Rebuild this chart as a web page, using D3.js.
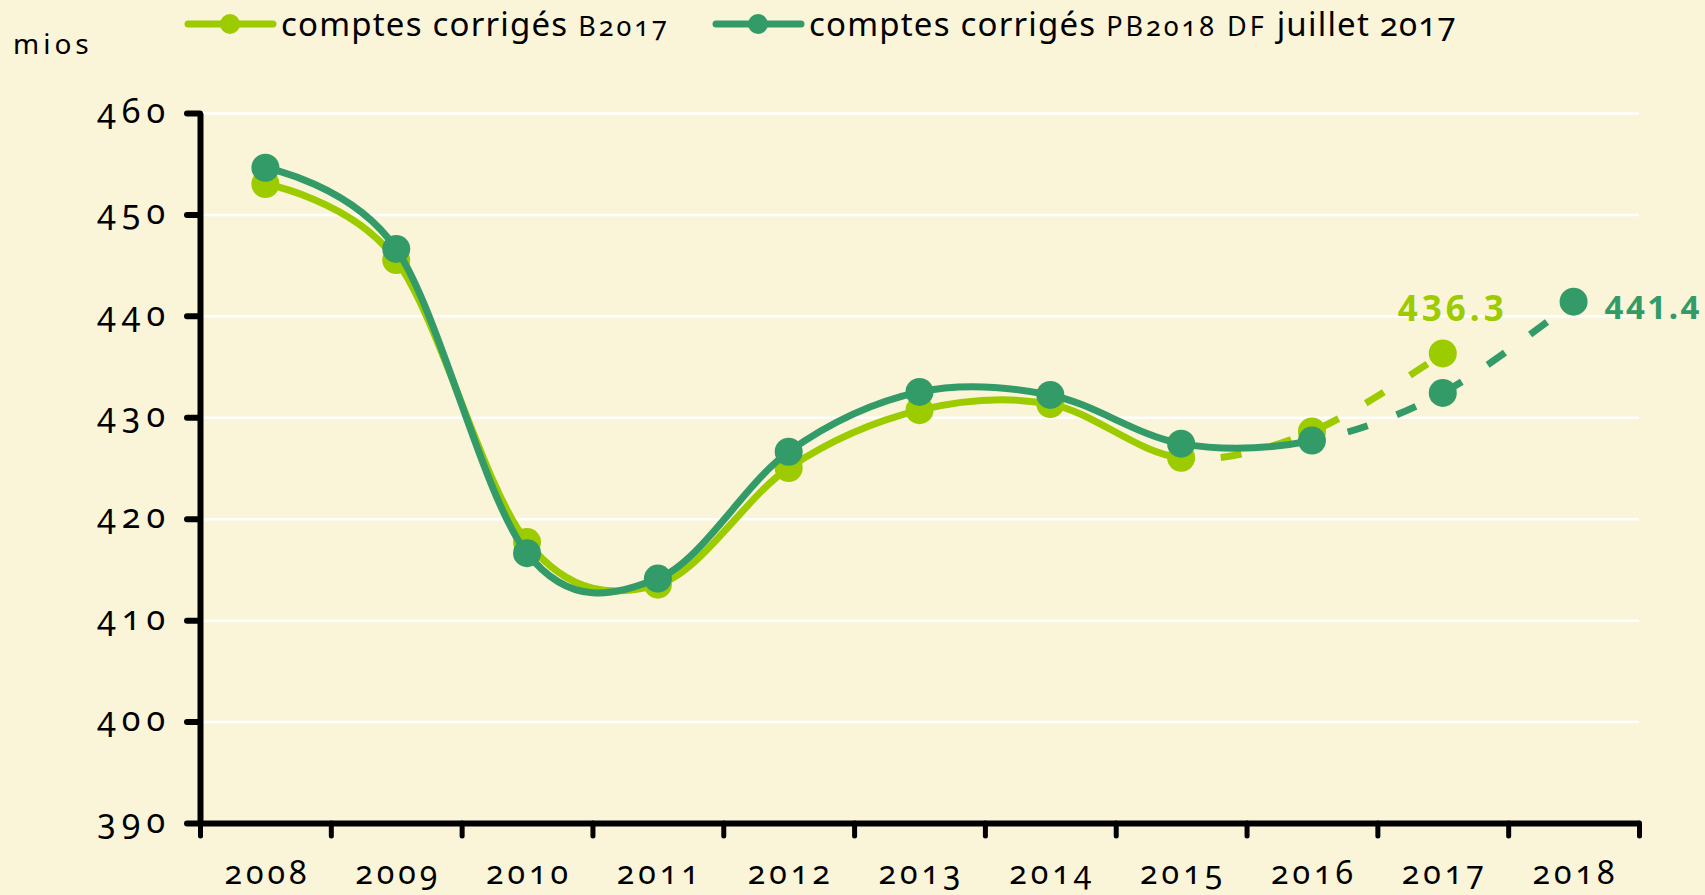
<!DOCTYPE html>
<html>
<head>
<meta charset="utf-8">
<script src="https://cdn.jsdelivr.net/npm/d3@7"></script>
<style>
  body { margin: 0; background: #faf4d8; }
  svg { display: block; font-family: "Noto Sans", sans-serif; font-variant-numeric: oldstyle-nums; }
</style>
</head>
<body>
<svg id="chart" width="1705" height="895"></svg>
<script>
// data
const years = ["2008", "2009", "2010", "2011", "2012", "2013", "2014", "2015", "2016", "2017", "2018"];
const b2017 = [453.0, 445.5, 417.7, 413.5, 425.0, 430.7, 431.3, 426.0, 428.6, 436.3];
const pb2018 = [454.6, 446.6, 416.6, 414.1, 426.6, 432.5, 432.2, 427.4, 427.7, 432.4, 441.4];
const yTicks = [390, 400, 410, 420, 430, 440, 450, 460];
const seriesNames = ["comptes corrigés ", "comptes corrigés "];
const seriesTags = ["B2017", "PB2018 DF"];
const seriesTail = ["", " juillet 2017"];

const lime = "#9ccb00";
const dark = "#339b68";

const svg = d3.select("#chart");
const mLeft = 200, mRight = 1639, mTop = 113, mBottom = 823;

const x = d3.scaleBand().domain(years).range([mLeft, mRight]);
const xEdge = d3.scaleLinear().domain([0, years.length]).range([mLeft, mRight]);
const y = d3.scaleLinear().domain([390, 460]).range([mBottom, mTop]);
const cx = (yr) => x(yr) + x.bandwidth() / 2;

// gridlines
svg.append("g")
    .attr("transform", `translate(${mLeft},0)`)
    .call(d3.axisLeft(y).tickValues(yTicks).tickSize(-(mRight - mLeft)).tickFormat(""))
    .call(g => g.select(".domain").remove())
    .call(g => g.selectAll("line").attr("stroke", "#fff").attr("stroke-width", 2.5));

// y axis
const yAx = svg.append("g")
    .attr("transform", `translate(${mLeft},0)`)
    .call(d3.axisLeft(y).tickValues(yTicks).tickSize(13).tickSizeOuter(0).tickPadding(16));
yAx.select(".domain").attr("stroke", "#000").attr("stroke-width", 6);
yAx.selectAll(".tick line").attr("stroke", "#000").attr("stroke-width", 6).attr("stroke-linecap", "round");
yAx.selectAll(".tick text")
    .attr("fill", "#000").attr("font-size", 34).attr("letter-spacing", 6)
    .attr("font-family", "Noto Sans").attr("dy", "0.27em");

// x axis: edge ticks + centred labels
const xTk = svg.append("g")
    .attr("transform", `translate(0,${mBottom})`)
    .call(d3.axisBottom(xEdge).tickValues(d3.range(0, years.length + 1)).tickSize(13).tickSizeOuter(0).tickFormat(""));
xTk.select(".domain").attr("stroke", "#000").attr("stroke-width", 6);
xTk.selectAll(".tick line").attr("stroke", "#000").attr("stroke-width", 5).attr("stroke-linecap", "round");

const xLab = svg.append("g")
    .attr("transform", `translate(0,${mBottom})`)
    .call(d3.axisBottom(x).tickSize(0).tickPadding(38));
xLab.select(".domain").remove();
xLab.selectAll(".tick text")
    .attr("fill", "#000").attr("font-size", 32).attr("letter-spacing", 4)
    .attr("font-family", "Noto Sans").attr("dx", 2);

// unit
svg.append("text").attr("x", 13).attr("y", 54)
    .attr("font-size", 28).attr("letter-spacing", 4).text("mios");

// clip paths for solid / dashed parts
const defs = svg.append("defs");
function clip(id, x0, x1) {
    defs.append("clipPath").attr("id", id)
        .append("rect").attr("x", x0).attr("y", 0).attr("width", x1 - x0).attr("height", 895);
}
clip("limeSolid", 0, cx("2015"));
clip("limeDash", cx("2015"), 1705);
clip("darkSolid", 0, cx("2016"));
clip("darkDash", cx("2016"), 1705);

const line = d3.line()
    .x((d, i) => cx(years[i]))
    .y(d => y(d))
    .curve(d3.curveCardinal.tension(0));

function drawSeries(vals, color, solidId, dashId) {
    const g = svg.append("g");
    g.append("path").attr("d", line(vals)).attr("fill", "none")
        .attr("stroke", color).attr("stroke-width", 7).attr("stroke-linejoin", "round")
        .attr("clip-path", `url(#${solidId})`);
    g.append("path").attr("d", line(vals)).attr("fill", "none")
        .attr("stroke", color).attr("stroke-width", 7).attr("stroke-dasharray", "21 31")
        .attr("clip-path", `url(#${dashId})`);
    g.selectAll("circle").data(vals).join("circle")
        .attr("cx", (d, i) => cx(years[i]))
        .attr("cy", d => y(d))
        .attr("r", 14)
        .attr("fill", color);
    return g;
}
drawSeries(b2017, lime, "limeSolid", "limeDash");
drawSeries(pb2018, dark, "darkSolid", "darkDash");

// end labels
const lastB = b2017.length - 1, lastP = pb2018.length - 1;
svg.append("text")
    .attr("x", cx(years[lastB]) + 10).attr("y", y(b2017[lastB]) - 32)
    .attr("text-anchor", "middle").attr("font-size", 35).attr("font-weight", "bold")
    .style("font-variant-numeric", "lining-nums")
    .attr("letter-spacing", 4).attr("fill", lime).text(d3.format(".1f")(b2017[lastB]));
svg.append("text")
    .attr("x", cx(years[lastP]) + 31).attr("y", y(pb2018[lastP]) + 17)
    .attr("font-size", 33).attr("font-weight", "bold")
    .style("font-variant-numeric", "lining-nums")
    .attr("letter-spacing", 2.5).attr("fill", dark).text(d3.format(".1f")(pb2018[lastP]));

// legend
const legend = [
    { color: lime, x: 188, i: 0 },
    { color: dark, x: 716, i: 1 }
];
legend.forEach(l => {
    const g = svg.append("g").attr("transform", `translate(${l.x},24)`);
    g.append("line").attr("x1", 0).attr("x2", 85).attr("stroke", l.color)
        .attr("stroke-width", 7).attr("stroke-linecap", "round");
    g.append("circle").attr("cx", 42).attr("r", 10).attr("fill", l.color);
    const t = g.append("text").attr("x", 93).attr("y", 12).attr("font-size", 33)
        .attr("letter-spacing", 1.2).attr("fill", "#000");
    t.append("tspan").text(seriesNames[l.i]);
    t.append("tspan").attr("font-size", 27).attr("letter-spacing", 3).text(seriesTags[l.i]);
    t.append("tspan").text(seriesTail[l.i]);
});
</script>
</body>
</html>
